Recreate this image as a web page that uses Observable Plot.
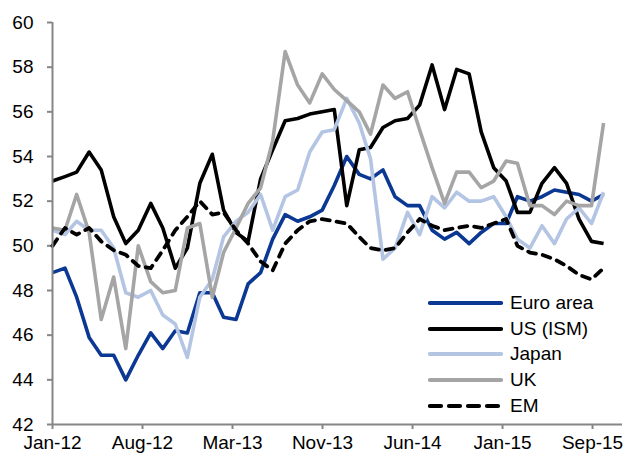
<!DOCTYPE html>
<html>
<head>
<meta charset="utf-8">
<script src="https://cdn.jsdelivr.net/npm/d3@7"></script>
<script src="https://cdn.jsdelivr.net/npm/@observablehq/plot@0.6"></script>
<style>
  html, body { margin: 0; padding: 0; background: #fff; }
  #wrap { position: relative; width: 626px; height: 457px; font-family: "Liberation Sans", Arial, sans-serif; }
  #legend { position: absolute; left: 428px; top: 290px; }
  .item { position: absolute; left: 0; height: 26px; display: flex; align-items: center; white-space: nowrap; font-size: 19px; color: #000; }
  .item svg { margin-right: 7px; }
</style>
</head>
<body>
<div id="wrap"><div id="legend"></div></div>
<script>
const months = [
  "2012-01","2012-02","2012-03","2012-04","2012-05","2012-06","2012-07","2012-08","2012-09","2012-10","2012-11","2012-12",
  "2013-01","2013-02","2013-03","2013-04","2013-05","2013-06","2013-07","2013-08","2013-09","2013-10","2013-11","2013-12",
  "2014-01","2014-02","2014-03","2014-04","2014-05","2014-06","2014-07","2014-08","2014-09","2014-10","2014-11","2014-12",
  "2015-01","2015-02","2015-03","2015-04","2015-05","2015-06","2015-07","2015-08","2015-09","2015-10"
];
const euroArea = [48.8,49.0,47.7,45.9,45.1,45.1,44.0,45.1,46.1,45.4,46.2,46.1,
  47.9,47.9,46.8,46.7,48.3,48.8,50.3,51.4,51.1,51.3,51.6,52.7,
  54.0,53.2,53.0,53.4,52.2,51.8,51.8,50.7,50.3,50.6,50.1,50.6,
  51.0,51.0,52.2,52.0,52.2,52.5,52.4,52.3,52.0,52.3];
const usISM = [52.9,53.1,53.3,54.2,53.4,51.3,50.1,50.7,51.9,50.8,49.0,49.9,
  52.8,54.1,51.6,50.6,50.2,53.0,54.3,55.6,55.7,55.9,56.0,56.1,
  51.8,54.3,54.4,55.3,55.6,55.7,56.3,58.1,56.1,57.9,57.7,55.1,
  53.5,52.9,51.5,51.5,52.8,53.5,52.8,51.2,50.2,50.1];
const japan = [50.7,50.5,51.1,50.7,50.7,49.9,47.9,47.7,48.0,46.9,46.5,45.0,
  47.7,48.5,50.4,51.1,51.5,52.3,50.7,52.2,52.5,54.2,55.1,55.2,
  56.6,55.5,53.9,49.4,49.9,51.5,50.5,52.2,51.7,52.4,52.0,52.0,
  52.2,51.3,50.3,49.9,50.9,50.1,51.2,51.7,51.0,52.4];
const uk = [50.8,50.7,52.3,50.6,46.7,48.6,45.4,50.0,48.4,47.9,48.0,50.8,
  51.0,47.7,49.7,50.8,51.9,52.6,54.7,58.7,57.2,56.4,57.7,57.0,
  56.5,56.0,55.0,57.2,56.6,56.9,55.2,53.5,51.9,53.3,53.3,52.6,
  52.9,53.8,53.7,51.8,51.8,51.4,52.0,51.8,51.8,55.5];
const em = [50.0,50.8,50.5,50.8,50.2,49.8,49.6,49.1,49.0,49.8,50.7,51.3,
  52.0,51.4,51.5,50.7,50.1,49.3,48.9,50.1,50.7,51.1,51.2,51.1,
  51.0,50.4,49.9,49.8,49.9,50.6,51.2,50.9,50.7,50.8,50.9,50.8,
  51.0,51.2,50.0,49.7,49.6,49.4,49.1,48.7,48.5,49.0];

const seriesNames = ["Euro area","US (ISM)","Japan","UK","EM"];
const seriesColors = ["#0b3892","#000000","#b4c5e4","#a5a5a5","#000000"];
const seriesDash = [null,null,null,null,"8,7"];
const seriesValues = [euroArea, usISM, japan, uk, em];

const xTickDates = ["2012-01-01","2012-08-11T14:00","2013-03-23T05:00","2013-11-01T19:00","2014-06-13T10:00","2015-01-23","2015-09-03T14:00"];
const xTickLabels = ["Jan-12","Aug-12","Mar-13","Nov-13","Jun-14","Jan-15","Sep-15"];
const yTicks = [42,44,46,48,50,52,54,56,58,60];
const xDomain = ["2012-01-01","2015-11-17"];

const parse = s => new Date(s.length === 7 ? s + "-01T00:00Z" : s + (s.includes("T") ? "Z" : "T00:00Z"));
const rows = [];
seriesNames.forEach((name, k) => {
  seriesValues[k].forEach((v, i) => rows.push({series: name, date: parse(months[i]), value: v}));
});
const tickDates = xTickDates.map(parse);

const axisColor = "#868686";
const lineMarks = seriesNames.map((name, k) => Plot.line(rows.filter(r => r.series === name), {
  x: "date", y: "value",
  stroke: seriesColors[k],
  strokeWidth: k === 4 ? 3.8 : 3.6,
  strokeDasharray: seriesDash[k] || undefined,
  strokeLinecap: k === 4 ? "round" : "butt",
  strokeLinejoin: "round"
}));

const chart = Plot.plot({
  width: 626, height: 457,
  marginLeft: 52, marginRight: 4, marginTop: 22, marginBottom: 33,
  style: {fontFamily: "'Liberation Sans', Arial, sans-serif", fontSize: "19px", color: "#000", background: "#fff", overflow: "visible"},
  x: {type: "utc", domain: xDomain.map(parse)},
  y: {domain: [42, 60]},
  marks: [
    Plot.axisY({ticks: yTicks, tickSize: 5, tickPadding: 14, stroke: axisColor, strokeWidth: 2, label: null, tickFormat: d => String(d)}),
    Plot.axisX({ticks: tickDates, tickSize: 5, tickPadding: 6, stroke: axisColor, strokeWidth: 2, label: null,
      tickFormat: d => xTickLabels[tickDates.findIndex(t => +t === +d)]}),
    ...lineMarks,
    Plot.ruleY([42], {stroke: axisColor, strokeWidth: 2}),
    Plot.ruleX([parse(xDomain[0])], {stroke: axisColor, strokeWidth: 2})
  ]
});
const wrap = document.getElementById("wrap");
wrap.insertBefore(chart, wrap.firstChild);

const legend = document.getElementById("legend");
seriesNames.forEach((name, k) => {
  const item = document.createElement("div");
  item.className = "item";
  item.style.top = (k * 25.7) + "px";
  const dash = seriesDash[k] ? `stroke-dasharray="11,8" stroke-linecap="round"` : `stroke-linecap="round"`;
  item.innerHTML = `<svg width="75" height="10"><line x1="2" y1="5" x2="73" y2="5" stroke="${seriesColors[k]}" stroke-width="4.2" ${dash}/></svg><span>${name}</span>`;
  legend.appendChild(item);
});
</script>
</body>
</html>
